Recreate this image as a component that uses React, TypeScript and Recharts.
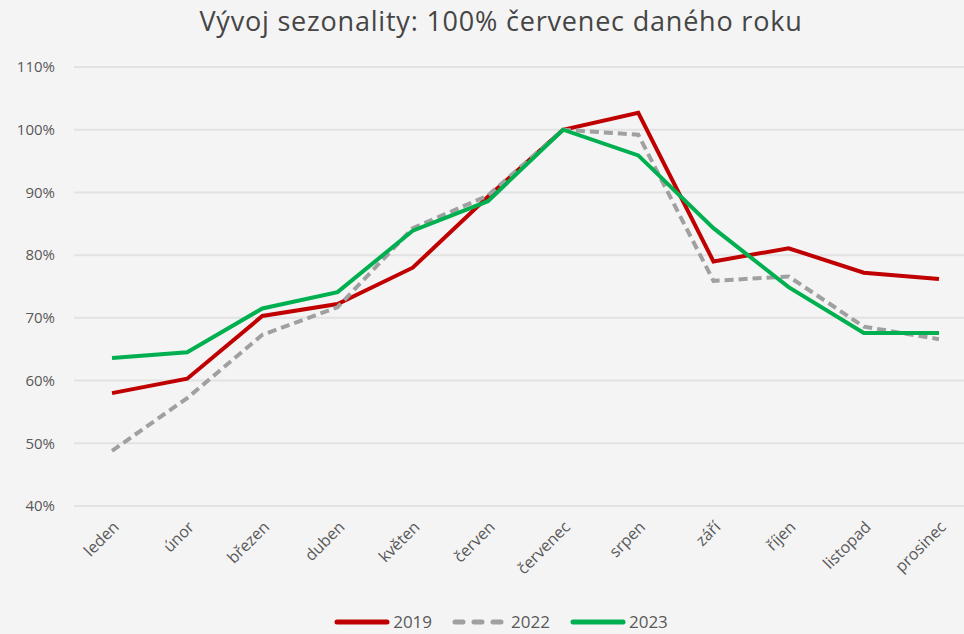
import { LineChart, Line, XAxis, YAxis, CartesianGrid, Legend } from "recharts";

const months = [
  "leden", "únor", "březen", "duben", "květen", "červen",
  "červenec", "srpen", "září", "říjen", "listopad", "prosinec",
];

const y2019 = [58.0, 60.3, 70.3, 72.2, 78.0, 89.3, 100, 102.7, 79.0, 81.1, 77.2, 76.2];
const y2022 = [48.8, 57.2, 67.3, 71.7, 84.3, 89.5, 100, 99.2, 75.9, 76.6, 68.6, 66.6];
const y2023 = [63.6, 64.5, 71.5, 74.1, 83.9, 88.6, 100, 95.9, 84.3, 74.9, 67.6, 67.6];

const yTicks = [40, 50, 60, 70, 80, 90, 100, 110];

const data = months.map((m, i) => ({
  month: m,
  "2019": y2019[i],
  "2022": y2022[i],
  "2023": y2023[i],
}));

const series = [
  { key: "2019", color: "#c00000", dash: undefined as string | undefined },
  { key: "2022", color: "#a0a0a0", dash: "9 5" },
  { key: "2023", color: "#00b050", dash: undefined as string | undefined },
];

const font = "'Open Sans', sans-serif";

function LegendContent() {
  return (
    <div style={{ display: "flex", justifyContent: "center", gap: 20, paddingLeft: 38, fontFamily: font, fontSize: 17, lineHeight: "20px", color: "#595959" }}>
      {series.map((s) => (
        <span key={s.key} style={{ display: "flex", alignItems: "center", gap: 3 }}>
          <svg width={56} height={8}>
            <line x1={3} y1={4} x2={53} y2={4} stroke={s.color} strokeWidth={5}
              strokeLinecap="round" strokeDasharray={s.dash ? "8 11" : undefined} />
          </svg>
          {s.key}
        </span>
      ))}
    </div>
  );
}

export default function App() {
  return (
    <div style={{ position: "absolute", top: 0, left: 0, width: 964, height: 634, background: "#f4f4f4", overflow: "hidden" }}>
      <div style={{ position: "absolute", top: 2, left: 19, width: 964, textAlign: "center", fontFamily: font, fontSize: 27, letterSpacing: 0.8, color: "#454545" }}>
        Vývoj sezonality: 100% červenec daného roku
      </div>
      <LineChart width={964} height={634} data={data} margin={{ top: 67, right: 0, bottom: 0, left: 8 }}>
        <CartesianGrid horizontal vertical={false} stroke="#e2e2e2" strokeWidth={2} />
        <XAxis
          dataKey="month"
          interval={0}
          padding={{ left: 38, right: 25 }}
          axisLine={false}
          tickLine={false}
          tickSize={0}
          tickMargin={14}
          angle={-45}
          textAnchor="end"
          height={128}
          tick={{ fontSize: 16, fill: "#595959", fontFamily: font }}
        />
        <YAxis
          domain={[40, 110]}
          ticks={yTicks}
          axisLine={false}
          tickLine={false}
          tickSize={0}
          tickMargin={19}
          width={66}
          tickFormatter={(v) => `${v}%`}
          tick={{ fontSize: 15, fill: "#595959", fontFamily: font }}
        />
        <Legend verticalAlign="middle" align="center" wrapperStyle={{ top: 612, left: 0, width: 964 }} content={<LegendContent />} />
        {series.map((s) => (
          <Line
            key={s.key}
            dataKey={s.key}
            stroke={s.color}
            strokeWidth={4}
            strokeDasharray={s.dash}
            dot={false}
            isAnimationActive={false}
          />
        ))}
      </LineChart>
    </div>
  );
}
